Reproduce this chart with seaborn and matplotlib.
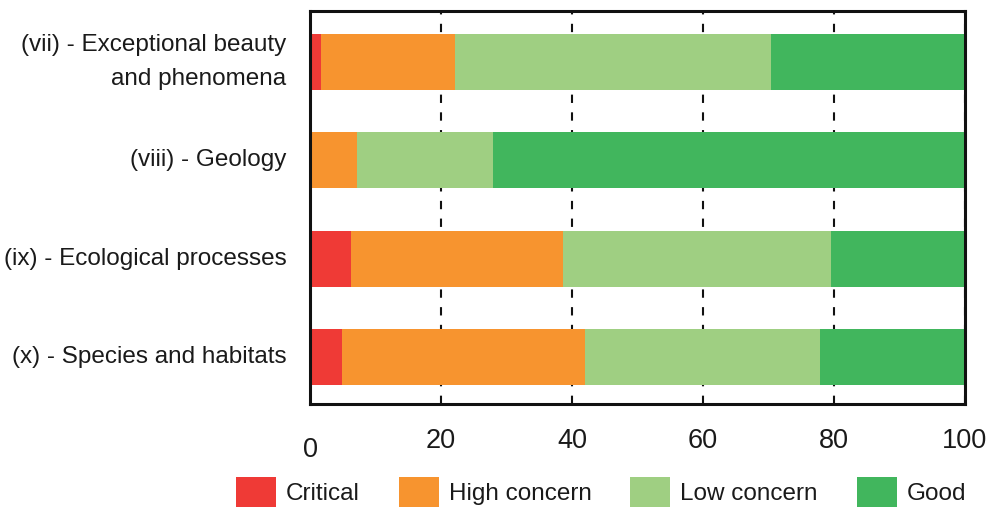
import pandas as pd
import seaborn as sns
import matplotlib.pyplot as plt
import matplotlib.transforms as mtransforms
from matplotlib.patches import Patch

# Values (percent of sites)
criteria = ['(vii) - Exceptional beauty\nand phenomena', '(viii) - Geology',
            '(ix) - Ecological processes', '(x) - Species and habitats']
critical = [1.7, 0.0, 6.3, 4.9]
high_concern = [20.5, 7.2, 32.3, 37.1]
low_concern = [48.2, 20.7, 40.9, 35.9]
good = [29.6, 72.1, 20.5, 22.1]

statuses = ['Critical', 'High concern', 'Low concern', 'Good']
colors = ['#EF3A36', '#F7942F', '#9FCF82', '#41B65D']

df = pd.DataFrame({'Criterion': criteria, 'Critical': critical,
                   'High concern': high_concern, 'Low concern': low_concern,
                   'Good': good})
cum = df[statuses].cumsum(axis=1)
cum['Criterion'] = df['Criterion']

sns.set_style('white')
plt.rcParams['font.family'] = ['Liberation Sans', 'DejaVu Sans']
plt.rcParams['text.color'] = '#1a1a1a'
plt.rcParams['xtick.color'] = '#1a1a1a'
plt.rcParams['ytick.color'] = '#1a1a1a'

fig = plt.figure(figsize=(9.88, 5.09), dpi=100)
ax = fig.add_axes([0.3138, 0.2063, 0.6629, 0.7721])

# stacked bars: draw cumulative totals from the longest down
for status, color in zip(statuses[::-1], colors[::-1]):
    sns.barplot(x=status, y='Criterion', data=cum, color=color, orient='h',
                width=0.57, saturation=1, ax=ax, zorder=2, linewidth=0)

ax.set_xlim(0, 100)
ax.set_ylim(3.48, -0.52)
ax.set_xticks([0, 20, 40, 60, 80, 100])
ax.set_xlabel('')
ax.set_ylabel('')

ax.grid(axis='x', color='#111111', linestyle=(0, (4, 4.5)), linewidth=1.5, zorder=0)
ax.grid(axis='y', visible=False)
ax.set_axisbelow(True)

for side in ['top', 'bottom', 'left', 'right']:
    ax.spines[side].set_visible(True)
    ax.spines[side].set_color('#111111')
    ax.spines[side].set_linewidth(2.2)

ax.tick_params(axis='x', direction='in', length=5, width=1, color='#333333',
               labelsize=19.5, pad=17)
ax.tick_params(axis='y', length=0, labelsize=17.5, pad=17)
for lbl in ax.get_yticklabels():
    lbl.set_linespacing(1.75)
    lbl.set_verticalalignment('center')

# the 0 label sits a bit lower in the original
zero_lbl = ax.get_xticklabels()[0]
zero_lbl.set_transform(zero_lbl.get_transform() +
                       mtransforms.ScaledTranslation(0, -9 / 100, fig.dpi_scale_trans))

handles = [Patch(facecolor=c, edgecolor='none') for c in colors]
fig.legend(handles, statuses, loc='center left', bbox_to_anchor=(0.239, 0.033),
           ncol=4, frameon=False, fontsize=17.5, handlelength=1.65, handleheight=1.55,
           handletextpad=0.4, columnspacing=1.6, borderpad=0, borderaxespad=0)

plt.savefig('out.png', dpi=100)
